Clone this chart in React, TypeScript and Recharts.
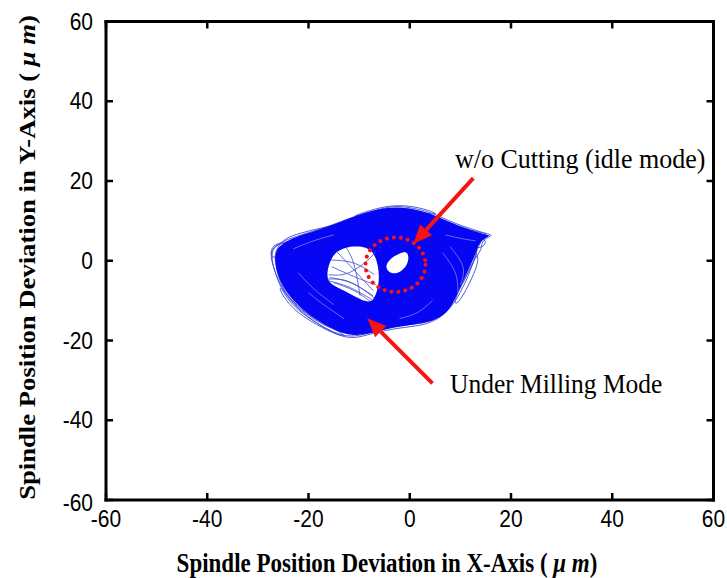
import { ScatterChart, Scatter, XAxis, YAxis, ReferenceDot, Curve, Label } from 'recharts';

type Pt = [number, number];

const TICKS = [-60, -40, -20, 0, 20, 40, 60];

// dense part of the orbit trace (um)
const BODY: Pt[] = [
  [-26.8, 1.2], [-26.0, 3.6], [-24.0, 5.2], [-21.0, 6.6], [-18.0, 7.8], [-15.0, 9.0],
  [-12.0, 10.6], [-9.0, 12.0], [-6.0, 13.0], [-3.0, 13.5], [0.5, 13.1], [4.0, 11.9],
  [7.5, 9.9], [11.0, 8.1], [15.8, 6.3], [15.8, 6.3], [13.6, 4.6], [13.0, 1.5],
  [11.5, -2.5], [10.0, -6.5], [8.8, -10.0], [7.5, -12.8], [5.5, -14.6], [2.5, -15.8],
  [-1.5, -16.4], [-5.0, -17.2], [-8.5, -18.5], [-11.5, -18.8], [-14.5, -17.6],
  [-18.0, -15.2], [-21.5, -12.0], [-24.3, -8.2], [-26.2, -3.8],
];

// outer loops of the trace
const LOOP_A: Pt[] = [
  [-27.6, 1.5], [-27.0, 3.4], [-25.0, 4.9], [-22.5, 6.1], [-19.3, 7.3], [-16.0, 8.6],
  [-12.7, 10.3], [-9.4, 11.7], [-6.1, 12.9], [-3.0, 13.8], [0.4, 13.3], [4.4, 12.1],
  [7.7, 10.0], [11.0, 8.4], [16.2, 6.4], [16.2, 6.4], [14.0, 4.8], [14.4, 3.0],
  [12.4, -0.2], [11.0, -4.5], [9.2, -8.6], [7.9, -12.0], [5.8, -14.6], [2.4, -16.3],
  [-2.2, -16.8], [-7.5, -18.2], [-11.0, -19.6], [-14.0, -18.8], [-17.0, -16.8],
  [-20.0, -14.2], [-22.8, -11.2], [-25.3, -7.0], [-26.8, -2.2],
];
const LOOP_B: Pt[] = [
  [-27.2, -0.5], [-27.3, 2.6], [-26.0, 4.2], [-23.5, 5.0], [-20.5, 6.4], [-17.0, 8.0],
  [-13.5, 9.6], [-10.0, 11.0], [-6.5, 12.4], [-2.5, 13.0], [1.5, 12.6], [5.0, 11.2],
  [8.5, 9.2], [12.0, 7.6], [15.2, 6.8], [15.2, 6.8], [13.0, 4.2], [13.4, 1.8],
  [12.0, -2.0], [10.2, -6.0], [8.6, -10.4], [6.8, -13.5], [4.0, -15.4], [0.0, -16.0],
  [-4.5, -16.6], [-9.0, -18.6], [-12.5, -19.2], [-16.0, -17.4], [-19.2, -15.0],
  [-22.0, -12.5], [-24.6, -9.0], [-26.2, -4.6],
];
const LOOP_G: Pt[] = [
  [-26.5, -1.0], [-26.8, 2.0], [-25.0, 5.6], [-21.5, 7.0], [-17.5, 8.2], [-14.0, 9.2],
  [-10.5, 10.6], [-7.0, 12.0], [-3.5, 12.6], [0.5, 12.2], [4.5, 10.8], [8.0, 9.0],
  [11.5, 7.2], [14.8, 6.0], [13.5, 3.8], [12.8, 0.5], [11.6, -3.8], [10.0, -8.0],
  [8.2, -11.8], [6.0, -14.0], [3.0, -15.0], [-1.0, -15.6], [-5.5, -16.2], [-9.5, -17.6],
  [-13.0, -18.2], [-17.0, -16.2], [-20.5, -13.4], [-23.5, -10.0], [-25.6, -5.8],
];
const LOOP_C: Pt[] = [[-27.5, 2.2], [-27.0, 3.8], [-25.5, 4.6], [-24.0, 4.2], [-24.5, 2.6], [-26.0, 1.2], [-27.2, 0.6]];
const LOOP_D: Pt[] = [[12.8, 3.0], [13.8, 0.5], [12.6, -3.5], [11.2, -7.2], [9.6, -10.6], [8.6, -11.0], [9.8, -7.0], [11.0, -3.0], [11.6, 0.8]];
const LOOP_E: Pt[] = [[12.5, 5.8], [15.0, 5.6], [15.0, 4.0], [13.6, 3.0], [12.2, 3.8]];
const LOOP_F: Pt[] = [[-12.0, 10.8], [-8.0, 12.6], [-4.0, 13.9], [0.0, 13.8], [3.5, 12.8], [6.0, 11.5], [3.0, 12.0], [-1.0, 12.8], [-5.0, 12.8], [-9.0, 11.5]];
const LOOP_H: Pt[] = [[-26.0, -6.5], [-24.5, -10.0], [-22.0, -13.2], [-18.5, -16.0], [-14.5, -18.6], [-12.0, -19.0], [-16.0, -16.6], [-20.0, -13.6], [-23.0, -10.4], [-25.0, -7.2]];
const EDGE_LOOPS = [LOOP_A, LOOP_B, LOOP_G, LOOP_C, LOOP_D, LOOP_E, LOOP_F, LOOP_H];

// open areas inside the trace
const HOLE_BIG: Pt[] = [
  [-15.2, 1.6], [-13.5, 3.0], [-11.2, 3.7], [-8.6, 3.5], [-6.9, 1.8], [-6.2, -1.5],
  [-6.0, -5.0], [-6.6, -8.5], [-7.6, -10.6], [-9.6, -9.8], [-12.2, -8.0], [-14.8, -6.4],
  [-16.2, -5.2], [-16.4, -2.4],
];
const HOLE_SMALL: Pt[] = [[-0.5, 2.4], [-0.1, 0.5], [-0.8, -1.8], [-2.6, -3.4], [-4.2, -3.0], [-4.9, -1.3], [-3.8, 0.6], [-2.0, 1.9]];

// chords crossing the big hole
const CHORDS: Pt[][] = [
  [[-15.6, 0.2], [-11.0, -0.6], [-7.0, -3.5]],
  [[-14.5, 2.4], [-10.5, -3.0], [-7.2, -7.5]],
  [[-16.0, -3.5], [-12.0, -3.0], [-8.0, 0.5], [-6.8, 2.5]],
  [[-16.2, -5.0], [-12.0, -6.6], [-7.4, -9.8]],
  [[-15.8, -4.2], [-11.5, -5.6], [-7.2, -8.8]],
  [[-15.0, -5.5], [-11.0, -7.5], [-7.8, -10.2]],
  [[-12.5, 3.2], [-11.0, -1.0], [-9.8, -8.8]],
  [[-15.4, -1.5], [-10.0, -4.5], [-6.6, -6.0]],
  [[-16.3, -4.6], [-12.5, -5.0], [-9.0, -7.4], [-7.0, -9.4]],
];

// lighter streaks in the dense part
const STREAKS: Pt[][] = [
  [[6.5, 2.0], [9.0, -3.0], [9.5, -8.0]],
  [[8.0, 3.5], [10.5, -1.5], [10.0, -6.0]],
  [[4.5, -10.0], [1.5, -13.0], [-2.0, -14.5]],
  [[-20.0, -8.0], [-17.0, -11.0], [-13.0, -14.5]],
  [[-22.0, -3.0], [-19.0, -7.0], [-15.0, -11.0]],
  [[-23.0, 3.0], [-19.0, 5.0], [-15.0, 6.5]],
  [[7.0, 6.5], [10.5, 5.5], [13.0, 5.0]],
];

// annotations
const IDLE_CIRCLE: Pt = [-2.81, -0.99];
const ARROW_IDLE: Pt[] = [[12.55, 20.7], [0.7, 4.2]];
const ARROW_MILL: Pt[] = [[4.49, -30.74], [-8.39, -14.43]];
const TEXT_IDLE = { x: 8.94, y: 23.26, text: 'w/o Cutting (idle mode)' };
const TEXT_MILL = { x: 7.95, y: -33.09, text: 'Under Milling Mode' };

const BLUE = '#0606f4';
const EDGE = '#3e4ad0';
const RED = '#f51414';
const SANS = '"Liberation Sans", Arial, sans-serif';
const SERIF = '"Liberation Serif", "Times New Roman", serif';

const toData = (pts: Pt[]) => pts.map(([x, y]) => ({ x, y }));

const NoDot = () => <g />;

const filled = (color: string) => (p: any) => (
  <Curve points={p.points} type="basisClosed" fill={color} stroke="none" />
);
const stroked = (color: string, width: number, type: any = 'basisClosed', opacity = 1) => (p: any) => (
  <Curve points={p.points} type={type} fill="none" stroke={color} strokeWidth={width} strokeOpacity={opacity} />
);

// tail -> tip, drawn from the two scaled points
const arrowLine = (p: any) => {
  const [a, b] = p.points;
  const dx = b.x - a.x;
  const dy = b.y - a.y;
  const len = Math.hypot(dx, dy);
  const ux = dx / len;
  const uy = dy / len;
  const bx = b.x - ux * 19;
  const by = b.y - uy * 19;
  const nx = -uy * 8;
  const ny = ux * 8;
  return (
    <g>
      <line x1={a.x} y1={a.y} x2={bx} y2={by} stroke={RED} strokeWidth={4} />
      <polygon points={`${b.x},${b.y} ${bx + nx},${by + ny} ${bx - nx},${by - ny}`} fill={RED} />
    </g>
  );
};

const XTick = ({ x, y, payload }: any) => (
  <text transform={`translate(${x},${y + 23.5}) scale(1,1.1)`} textAnchor="middle" fontFamily={SANS} fontSize={21} fill="#000">
    {payload.value}
  </text>
);

const YTick = ({ x, y, payload }: any) => (
  <text transform={`translate(${x},${y + 8 + (payload.value === -60 ? 3 : 0)}) scale(1,1.1)`} textAnchor="end" fontFamily={SANS} fontSize={21} fill="#000">
    {payload.value}
  </text>
);

const XTitle = () => (
  <text transform="translate(387,571.5) scale(1,1.15)" textAnchor="middle" fontFamily={SERIF} fontSize={23} fontWeight="bold" fill="#000">
    Spindle Position Deviation in X-Axis (<tspan fontStyle="italic"> μ m</tspan>)
  </text>
);

const YTitle = () => (
  <text transform="translate(35,257.5) rotate(-90) scale(1.16,1)" textAnchor="middle" fontFamily={SERIF} fontSize={23} fontWeight="bold" fill="#000">
    Spindle Position Deviation in Y-Axis (<tspan fontStyle="italic"> μ m</tspan>)
  </text>
);

const note = (text: string, size: number) => (p: any) => (
  <text transform={`translate(${p.cx},${p.cy}) scale(1,1.06)`} fontFamily={SERIF} fontSize={size} fill="#000">
    {text}
  </text>
);

const axisLine = { stroke: '#000', strokeWidth: 3, strokeLinecap: 'square' as const };
const tickLine = { stroke: '#000', strokeWidth: 2.5 };

export default function App() {
  return (
    <div style={{ position: 'absolute', left: 0, top: 0, background: '#fff' }}>
      <ScatterChart width={727} height={578} margin={{ top: 20.5, right: 12.5, bottom: 0, left: 0 }}>
        <XAxis
          dataKey="x"
          type="number"
          domain={[-60, 60]}
          ticks={TICKS}
          interval={0}
          allowDataOverflow
          height={78}
          tickSize={-7}
          tickMargin={10}
          axisLine={axisLine}
          tickLine={tickLine}
          tick={XTick}
        >
          <Label content={XTitle} />
        </XAxis>
        <XAxis
          xAxisId="top"
          orientation="top"
          dataKey="x"
          type="number"
          domain={[-60, 60]}
          ticks={TICKS}
          interval={0}
          allowDataOverflow
          height={1}
          tickSize={-7}
          axisLine={axisLine}
          tickLine={tickLine}
          tick={NoDot}
        />
        <YAxis
          dataKey="y"
          type="number"
          domain={[-60, 60]}
          ticks={TICKS}
          interval={0}
          allowDataOverflow
          width={106}
          tickSize={-7}
          tickMargin={20}
          axisLine={axisLine}
          tickLine={tickLine}
          tick={YTick}
        >
          <Label content={YTitle} />
        </YAxis>
        <YAxis
          yAxisId="right"
          orientation="right"
          dataKey="y"
          type="number"
          domain={[-60, 60]}
          ticks={TICKS}
          interval={0}
          allowDataOverflow
          width={1}
          tickSize={-7}
          axisLine={axisLine}
          tickLine={tickLine}
          tick={NoDot}
        />

        {EDGE_LOOPS.map((loop, i) => (
          <Scatter key={`edge${i}`} data={toData(loop)} line={stroked(EDGE, 0.9)} shape={NoDot} isAnimationActive={false} />
        ))}
        <Scatter data={toData(BODY)} line={filled(BLUE)} shape={NoDot} isAnimationActive={false} />
        {STREAKS.map((s, i) => (
          <Scatter key={`streak${i}`} data={toData(s)} line={stroked('#ffffff', 0.7, 'natural', 0.55)} shape={NoDot} isAnimationActive={false} />
        ))}
        <Scatter data={toData(HOLE_BIG)} line={filled('#ffffff')} shape={NoDot} isAnimationActive={false} />
        {CHORDS.map((c, i) => (
          <Scatter key={`chord${i}`} data={toData(c)} line={stroked(EDGE, 0.8, 'natural')} shape={NoDot} isAnimationActive={false} />
        ))}
        <Scatter data={toData(HOLE_SMALL)} line={filled('#ffffff')} shape={NoDot} isAnimationActive={false} />
        <Scatter data={toData(ARROW_IDLE)} line={arrowLine} shape={NoDot} isAnimationActive={false} />
        <Scatter data={toData(ARROW_MILL)} line={arrowLine} shape={NoDot} isAnimationActive={false} />

        <ReferenceDot
          x={IDLE_CIRCLE[0]}
          y={IDLE_CIRCLE[1]}
          shape={(p: any) => (
            <ellipse cx={p.cx} cy={p.cy} rx={30} ry={27.3} fill="none" stroke={RED} strokeWidth={4} strokeDasharray="0.01 7" strokeLinecap="round" />
          )}
        />
        <ReferenceDot x={TEXT_IDLE.x} y={TEXT_IDLE.y} shape={note(TEXT_IDLE.text, 26)} />
        <ReferenceDot x={TEXT_MILL.x} y={TEXT_MILL.y} shape={note(TEXT_MILL.text, 25.5)} />
      </ScatterChart>
    </div>
  );
}
